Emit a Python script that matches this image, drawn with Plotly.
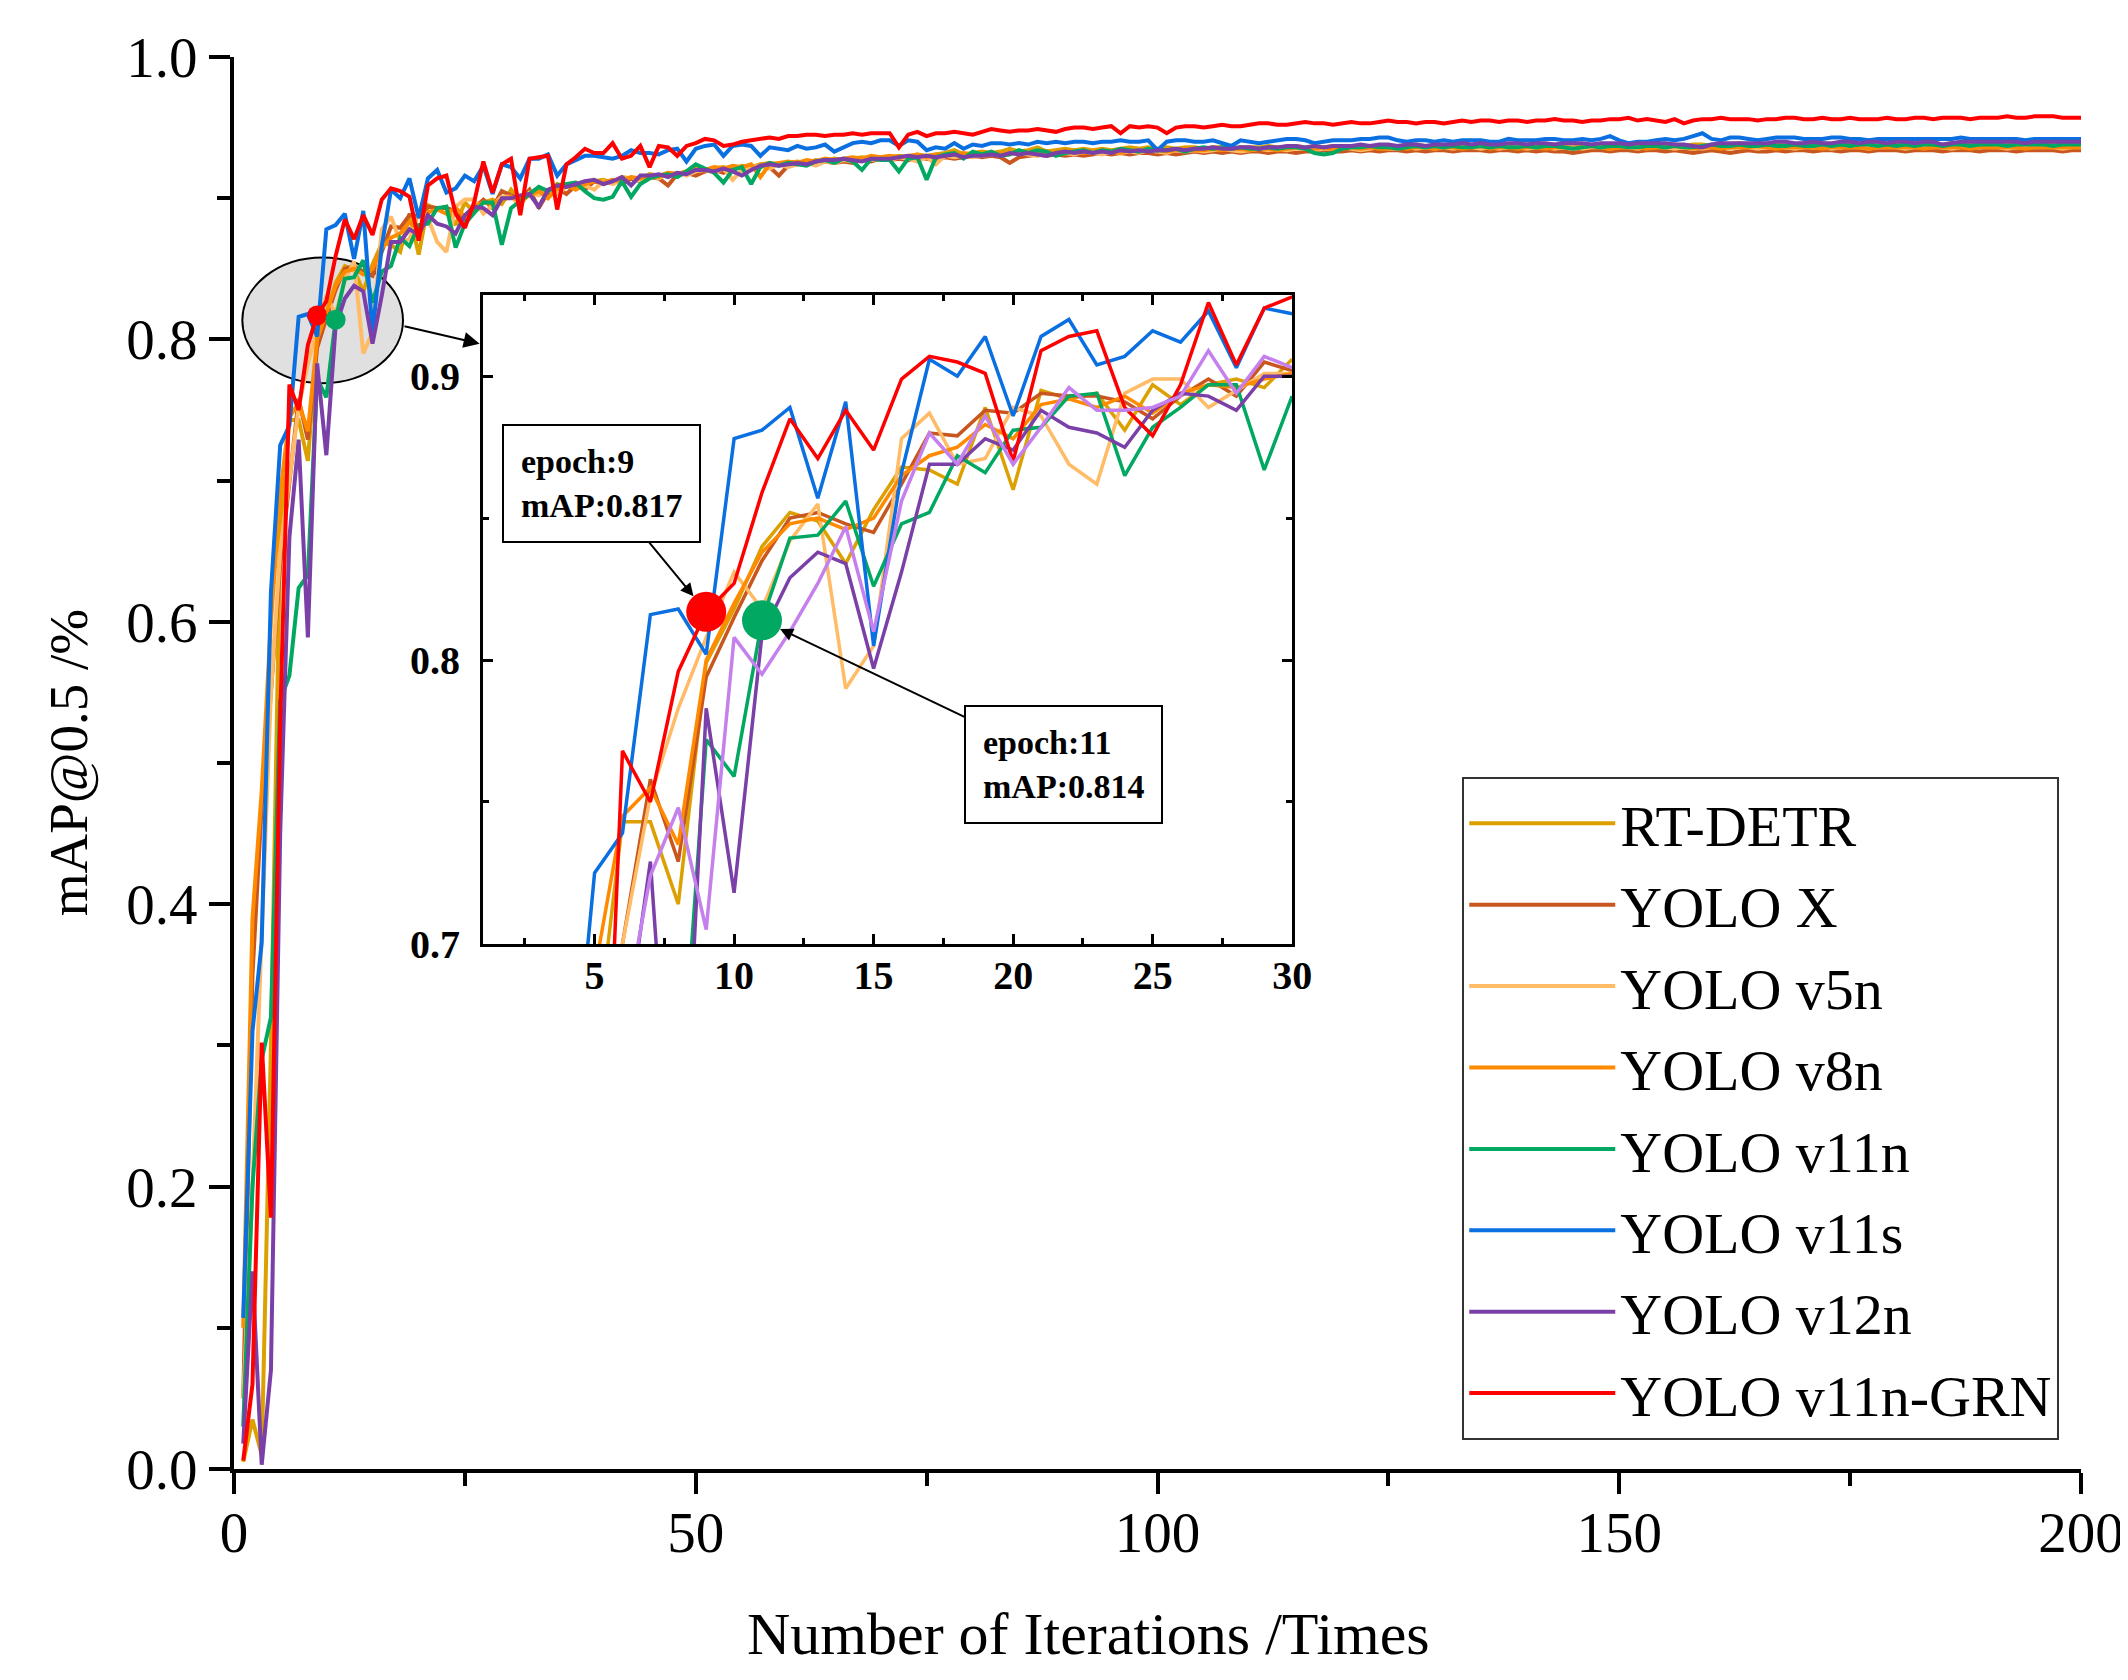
import plotly.graph_objects as go

# mAP@0.5 por época (1..200) de cada modelo
epochs = list(range(1, 201))

rt_detr = [
    0.005, 0.035, 0.010, 0.300, 0.660, 0.743, 0.743, 0.714, 0.799, 0.818,
    0.840, 0.852, 0.849, 0.834, 0.853, 0.868, 0.867, 0.862, 0.889, 0.860,
    0.895, 0.892, 0.894, 0.881, 0.897, 0.890, 0.897, 0.899, 0.896, 0.906,
    0.898, 0.903, 0.907, 0.905, 0.910, 0.908, 0.910, 0.909, 0.912, 0.913,
    0.911, 0.915, 0.914, 0.913, 0.917, 0.916, 0.918, 0.917, 0.919, 0.920,
    0.919, 0.921, 0.922, 0.920, 0.923, 0.922, 0.924, 0.925, 0.924, 0.925,
    0.926, 0.925, 0.927, 0.926, 0.928, 0.927, 0.928, 0.929, 0.928, 0.929,
    0.929, 0.930, 0.929, 0.931, 0.930, 0.931, 0.932, 0.934, 0.931, 0.932,
    0.933, 0.932, 0.933, 0.935, 0.933, 0.934, 0.936, 0.933, 0.934, 0.935,
    0.934, 0.935, 0.934, 0.935, 0.934, 0.935, 0.936, 0.935, 0.936, 0.935,
    0.936, 0.935, 0.936, 0.936, 0.935, 0.936, 0.936, 0.935, 0.936, 0.936,
    0.936, 0.937, 0.936, 0.936, 0.937, 0.936, 0.937, 0.936, 0.937, 0.937,
    0.937, 0.936, 0.937, 0.937, 0.936, 0.937, 0.937, 0.938, 0.937, 0.937,
    0.937, 0.938, 0.937, 0.937, 0.938, 0.937, 0.938, 0.937, 0.938, 0.938,
    0.937, 0.938, 0.938, 0.937, 0.938, 0.938, 0.937, 0.938, 0.938, 0.938,
    0.938, 0.937, 0.938, 0.938, 0.938, 0.938, 0.937, 0.938, 0.938, 0.937,
    0.938, 0.938, 0.939, 0.938, 0.938, 0.938, 0.939, 0.938, 0.938, 0.939,
    0.938, 0.939, 0.938, 0.938, 0.939, 0.938, 0.938, 0.939, 0.938, 0.938,
    0.939, 0.938, 0.938, 0.939, 0.938, 0.939, 0.938, 0.938, 0.939, 0.938,
    0.938, 0.939, 0.938, 0.939, 0.938, 0.939, 0.939, 0.938, 0.939, 0.939,
]

yolo_x = [
    0.050, 0.350, 0.470, 0.550, 0.640, 0.700, 0.758, 0.729, 0.794, 0.815,
    0.835, 0.850, 0.852, 0.848, 0.845, 0.862, 0.880, 0.879, 0.888, 0.887,
    0.894, 0.893, 0.893, 0.891, 0.885, 0.893, 0.899, 0.893, 0.905, 0.902,
    0.899, 0.906, 0.893, 0.904, 0.907, 0.903, 0.909, 0.906, 0.912, 0.910,
    0.913, 0.910, 0.914, 0.912, 0.915, 0.914, 0.909, 0.917, 0.918, 0.916,
    0.919, 0.920, 0.918, 0.921, 0.922, 0.920, 0.923, 0.922, 0.916, 0.923,
    0.924, 0.925, 0.924, 0.926, 0.925, 0.926, 0.925, 0.927, 0.926, 0.928,
    0.927, 0.928, 0.927, 0.929, 0.928, 0.927, 0.929, 0.928, 0.929, 0.930,
    0.929, 0.930, 0.929, 0.925, 0.929, 0.930, 0.931, 0.930, 0.931, 0.930,
    0.931, 0.930, 0.931, 0.932, 0.931, 0.932, 0.931, 0.932, 0.932, 0.931,
    0.932, 0.931, 0.932, 0.933, 0.932, 0.933, 0.932, 0.933, 0.932, 0.933,
    0.933, 0.932, 0.933, 0.933, 0.932, 0.933, 0.933, 0.934, 0.933, 0.933,
    0.934, 0.933, 0.934, 0.933, 0.934, 0.934, 0.933, 0.934, 0.933, 0.934,
    0.934, 0.933, 0.934, 0.934, 0.934, 0.933, 0.934, 0.934, 0.933, 0.934,
    0.933, 0.934, 0.933, 0.933, 0.932, 0.933, 0.934, 0.934, 0.933, 0.934,
    0.934, 0.933, 0.934, 0.934, 0.933, 0.934, 0.933, 0.932, 0.933, 0.934,
    0.933, 0.932, 0.933, 0.934, 0.933, 0.933, 0.934, 0.933, 0.934, 0.934,
    0.933, 0.934, 0.934, 0.933, 0.934, 0.934, 0.933, 0.934, 0.934, 0.934,
    0.933, 0.934, 0.934, 0.934, 0.933, 0.934, 0.934, 0.934, 0.933, 0.934,
    0.934, 0.934, 0.933, 0.934, 0.934, 0.934, 0.934, 0.933, 0.934, 0.934,
]

yolo_v5n = [
    0.050, 0.200, 0.380, 0.550, 0.650, 0.700, 0.752, 0.783, 0.808, 0.831,
    0.818, 0.842, 0.855, 0.790, 0.805, 0.878, 0.887, 0.869, 0.871, 0.889,
    0.886, 0.869, 0.862, 0.894, 0.899, 0.899, 0.889, 0.895, 0.901, 0.901,
    0.895, 0.904, 0.902, 0.906, 0.903, 0.908, 0.911, 0.909, 0.906, 0.912,
    0.910, 0.913, 0.915, 0.912, 0.916, 0.914, 0.917, 0.918, 0.916, 0.919,
    0.920, 0.918, 0.921, 0.913, 0.920, 0.922, 0.923, 0.921, 0.924, 0.922,
    0.924, 0.925, 0.923, 0.926, 0.925, 0.927, 0.926, 0.928, 0.927, 0.928,
    0.927, 0.929, 0.928, 0.926, 0.929, 0.924, 0.930, 0.929, 0.930, 0.929,
    0.930, 0.931, 0.930, 0.931, 0.932, 0.931, 0.930, 0.932, 0.931, 0.932,
    0.931, 0.933, 0.932, 0.931, 0.933, 0.932, 0.933, 0.932, 0.934, 0.933,
    0.932, 0.934, 0.933, 0.934, 0.933, 0.934, 0.935, 0.934, 0.933, 0.934,
    0.935, 0.934, 0.935, 0.934, 0.935, 0.935, 0.934, 0.935, 0.935, 0.936,
    0.935, 0.934, 0.935, 0.936, 0.935, 0.935, 0.936, 0.935, 0.936, 0.935,
    0.936, 0.935, 0.936, 0.936, 0.935, 0.936, 0.935, 0.936, 0.936, 0.935,
    0.936, 0.936, 0.935, 0.936, 0.936, 0.935, 0.936, 0.936, 0.935, 0.936,
    0.936, 0.935, 0.936, 0.936, 0.936, 0.935, 0.936, 0.936, 0.935, 0.936,
    0.936, 0.935, 0.936, 0.936, 0.935, 0.936, 0.936, 0.936, 0.935, 0.936,
    0.936, 0.936, 0.935, 0.936, 0.936, 0.936, 0.935, 0.936, 0.936, 0.936,
    0.935, 0.936, 0.936, 0.936, 0.936, 0.935, 0.936, 0.936, 0.936, 0.936,
    0.936, 0.935, 0.936, 0.936, 0.936, 0.936, 0.936, 0.935, 0.936, 0.936,
]

yolo_v8n = [
    0.100, 0.390, 0.480, 0.600, 0.690, 0.745, 0.755, 0.735, 0.800, 0.820,
    0.838, 0.848, 0.850, 0.846, 0.850, 0.865, 0.872, 0.875, 0.883, 0.878,
    0.890, 0.892, 0.889, 0.893, 0.887, 0.894, 0.897, 0.896, 0.899, 0.901,
    0.898, 0.902, 0.905, 0.900, 0.907, 0.909, 0.906, 0.910, 0.912, 0.911,
    0.913, 0.912, 0.915, 0.914, 0.916, 0.915, 0.918, 0.917, 0.919, 0.921,
    0.920, 0.922, 0.921, 0.923, 0.922, 0.924, 0.915, 0.924, 0.925, 0.926,
    0.925, 0.927, 0.926, 0.928, 0.927, 0.928, 0.929, 0.928, 0.930, 0.929,
    0.930, 0.929, 0.930, 0.931, 0.929, 0.931, 0.930, 0.931, 0.932, 0.931,
    0.931, 0.932, 0.931, 0.932, 0.933, 0.932, 0.931, 0.933, 0.932, 0.933,
    0.933, 0.932, 0.933, 0.934, 0.933, 0.932, 0.934, 0.933, 0.934, 0.934,
    0.933, 0.934, 0.935, 0.934, 0.934, 0.935, 0.934, 0.935, 0.935, 0.934,
    0.935, 0.935, 0.934, 0.935, 0.936, 0.935, 0.935, 0.936, 0.935, 0.935,
    0.936, 0.935, 0.936, 0.935, 0.935, 0.936, 0.935, 0.936, 0.936, 0.935,
    0.936, 0.936, 0.935, 0.936, 0.937, 0.935, 0.936, 0.936, 0.935, 0.936,
    0.936, 0.935, 0.936, 0.936, 0.935, 0.936, 0.937, 0.936, 0.935, 0.936,
    0.936, 0.936, 0.935, 0.936, 0.936, 0.937, 0.936, 0.935, 0.936, 0.936,
    0.935, 0.936, 0.936, 0.936, 0.937, 0.936, 0.935, 0.936, 0.936, 0.936,
    0.936, 0.935, 0.936, 0.936, 0.936, 0.936, 0.935, 0.936, 0.936, 0.936,
    0.936, 0.936, 0.935, 0.936, 0.936, 0.936, 0.936, 0.935, 0.936, 0.936,
    0.936, 0.936, 0.936, 0.935, 0.936, 0.936, 0.936, 0.936, 0.936, 0.936,
]

yolo_v11n = [
    0.030, 0.200, 0.290, 0.320, 0.544, 0.562, 0.624, 0.633, 0.772, 0.759,
    0.814, 0.843, 0.844, 0.856, 0.826, 0.848, 0.852, 0.872, 0.866, 0.881,
    0.882, 0.893, 0.894, 0.865, 0.882, 0.889, 0.897, 0.897, 0.867, 0.893,
    0.898, 0.903, 0.908, 0.905, 0.909, 0.910, 0.911, 0.905, 0.900, 0.899,
    0.901, 0.912, 0.901, 0.910, 0.914, 0.916, 0.917, 0.915, 0.919, 0.924,
    0.921, 0.918, 0.911, 0.920, 0.922, 0.910, 0.922, 0.925, 0.923, 0.925,
    0.924, 0.923, 0.926, 0.927, 0.925, 0.928, 0.926, 0.920, 0.928, 0.927,
    0.927, 0.919, 0.928, 0.929, 0.913, 0.929, 0.931, 0.932, 0.928, 0.933,
    0.931, 0.933, 0.930, 0.931, 0.934, 0.932, 0.934, 0.933, 0.930, 0.932,
    0.933, 0.934, 0.932, 0.934, 0.933, 0.935, 0.934, 0.933, 0.935, 0.934,
    0.934, 0.935, 0.933, 0.935, 0.936, 0.935, 0.936, 0.935, 0.936, 0.935,
    0.935, 0.936, 0.935, 0.936, 0.936, 0.935, 0.932, 0.931, 0.932, 0.935,
    0.936, 0.936, 0.937, 0.936, 0.936, 0.935, 0.936, 0.937, 0.936, 0.937,
    0.936, 0.937, 0.936, 0.936, 0.937, 0.936, 0.937, 0.936, 0.936, 0.937,
    0.936, 0.937, 0.937, 0.936, 0.935, 0.936, 0.937, 0.936, 0.937, 0.937,
    0.936, 0.936, 0.937, 0.937, 0.936, 0.937, 0.936, 0.936, 0.937, 0.938,
    0.937, 0.937, 0.938, 0.937, 0.937, 0.938, 0.937, 0.937, 0.938, 0.937,
    0.937, 0.938, 0.937, 0.938, 0.937, 0.938, 0.938, 0.937, 0.938, 0.937,
    0.938, 0.937, 0.938, 0.938, 0.937, 0.938, 0.938, 0.937, 0.938, 0.938,
    0.938, 0.937, 0.938, 0.938, 0.938, 0.938, 0.937, 0.938, 0.938, 0.938,
]

yolo_v11s = [
    0.107, 0.310, 0.373, 0.621, 0.725, 0.739, 0.816, 0.818, 0.802, 0.878,
    0.881, 0.889, 0.857, 0.891, 0.805, 0.866, 0.906, 0.900, 0.914, 0.886,
    0.914, 0.920, 0.904, 0.907, 0.916, 0.912, 0.923, 0.903, 0.924, 0.922,
    0.914, 0.928, 0.928, 0.931, 0.916, 0.924, 0.927, 0.930, 0.930, 0.929,
    0.928, 0.930, 0.934, 0.932, 0.932, 0.931, 0.934, 0.935, 0.926, 0.935,
    0.937, 0.938, 0.930, 0.937, 0.938, 0.937, 0.930, 0.936, 0.935, 0.934,
    0.937, 0.935, 0.936, 0.938, 0.933, 0.936, 0.939, 0.940, 0.939, 0.941,
    0.941, 0.937, 0.941, 0.940, 0.934, 0.936, 0.935, 0.939, 0.935, 0.938,
    0.937, 0.939, 0.939, 0.938, 0.939, 0.938, 0.940, 0.939, 0.940, 0.939,
    0.940, 0.940, 0.939, 0.940, 0.940, 0.941, 0.940, 0.940, 0.941, 0.934,
    0.940, 0.941, 0.941, 0.940, 0.940, 0.941, 0.939, 0.937, 0.941, 0.940,
    0.939, 0.940, 0.941, 0.942, 0.942, 0.941, 0.939, 0.940, 0.941, 0.941,
    0.941, 0.942, 0.942, 0.943, 0.943, 0.941, 0.940, 0.941, 0.941, 0.940,
    0.941, 0.940, 0.941, 0.941, 0.941, 0.940, 0.940, 0.942, 0.941, 0.941,
    0.941, 0.942, 0.942, 0.941, 0.941, 0.942, 0.941, 0.942, 0.944, 0.941,
    0.939, 0.940, 0.940, 0.941, 0.942, 0.941, 0.942, 0.944, 0.946, 0.942,
    0.941, 0.943, 0.943, 0.942, 0.941, 0.942, 0.943, 0.943, 0.943, 0.942,
    0.942, 0.942, 0.943, 0.943, 0.942, 0.942, 0.941, 0.942, 0.942, 0.942,
    0.942, 0.942, 0.942, 0.942, 0.942, 0.942, 0.943, 0.942, 0.942, 0.942,
    0.942, 0.942, 0.942, 0.941, 0.942, 0.942, 0.942, 0.942, 0.942, 0.942,
]

yolo_v12n = [
    0.018, 0.140, 0.003, 0.070, 0.450, 0.660, 0.729, 0.589, 0.783, 0.718,
    0.809, 0.829, 0.838, 0.834, 0.797, 0.831, 0.869, 0.869, 0.878, 0.874,
    0.888, 0.882, 0.880, 0.875, 0.888, 0.894, 0.893, 0.888, 0.900, 0.900,
    0.902, 0.903, 0.894, 0.906, 0.909, 0.908, 0.910, 0.912, 0.913, 0.910,
    0.912, 0.915, 0.909, 0.916, 0.916, 0.917, 0.915, 0.918, 0.917, 0.920,
    0.920, 0.919, 0.921, 0.919, 0.916, 0.920, 0.923, 0.924, 0.923, 0.924,
    0.925, 0.924, 0.926, 0.927, 0.927, 0.928, 0.927, 0.926, 0.928, 0.928,
    0.928, 0.929, 0.930, 0.929, 0.930, 0.929, 0.930, 0.931, 0.929, 0.930,
    0.930, 0.931, 0.930, 0.932, 0.931, 0.932, 0.931, 0.930, 0.932, 0.933,
    0.932, 0.933, 0.932, 0.933, 0.932, 0.934, 0.933, 0.934, 0.933, 0.934,
    0.934, 0.935, 0.934, 0.935, 0.935, 0.936, 0.935, 0.935, 0.936, 0.936,
    0.935, 0.936, 0.936, 0.937, 0.937, 0.936, 0.937, 0.936, 0.937, 0.937,
    0.937, 0.938, 0.937, 0.938, 0.938, 0.937, 0.938, 0.938, 0.937, 0.938,
    0.938, 0.938, 0.939, 0.938, 0.939, 0.938, 0.938, 0.939, 0.939, 0.938,
    0.939, 0.939, 0.938, 0.939, 0.939, 0.939, 0.938, 0.939, 0.939, 0.939,
    0.938, 0.939, 0.939, 0.939, 0.939, 0.938, 0.938, 0.937, 0.936, 0.938,
    0.939, 0.939, 0.939, 0.939, 0.939, 0.939, 0.940, 0.940, 0.939, 0.939,
    0.940, 0.939, 0.939, 0.940, 0.940, 0.939, 0.940, 0.940, 0.939, 0.940,
    0.940, 0.939, 0.940, 0.940, 0.938, 0.939, 0.940, 0.940, 0.940, 0.940,
    0.940, 0.940, 0.940, 0.939, 0.940, 0.940, 0.940, 0.940, 0.940, 0.940,
]

yolo_v11n_grn = [
    0.006, 0.060, 0.302, 0.178, 0.530, 0.768, 0.750, 0.796, 0.817, 0.827,
    0.859, 0.885, 0.871, 0.888, 0.874, 0.899, 0.907, 0.905, 0.901, 0.870,
    0.909, 0.914, 0.916, 0.889, 0.879, 0.897, 0.926, 0.904, 0.924, 0.928,
    0.888, 0.928, 0.929, 0.930, 0.892, 0.924, 0.929, 0.935, 0.932, 0.932,
    0.939, 0.928, 0.930, 0.937, 0.922, 0.937, 0.936, 0.930, 0.937, 0.939,
    0.942, 0.941, 0.937, 0.938, 0.940, 0.941, 0.942, 0.943, 0.942, 0.944,
    0.944, 0.945, 0.945, 0.944, 0.945, 0.945, 0.946, 0.945, 0.946, 0.946,
    0.946, 0.936, 0.945, 0.947, 0.944, 0.946, 0.946, 0.947, 0.946, 0.945,
    0.947, 0.949, 0.948, 0.947, 0.948, 0.948, 0.949, 0.948, 0.947, 0.949,
    0.950, 0.950, 0.949, 0.950, 0.951, 0.946, 0.951, 0.950, 0.951, 0.950,
    0.946, 0.950, 0.951, 0.951, 0.950, 0.951, 0.952, 0.951, 0.951, 0.952,
    0.953, 0.953, 0.952, 0.952, 0.953, 0.954, 0.953, 0.953, 0.952, 0.953,
    0.954, 0.953, 0.953, 0.954, 0.955, 0.954, 0.954, 0.953, 0.954, 0.954,
    0.953, 0.954, 0.955, 0.954, 0.955, 0.955, 0.954, 0.955, 0.955, 0.954,
    0.955, 0.955, 0.956, 0.955, 0.955, 0.954, 0.955, 0.955, 0.956, 0.956,
    0.957, 0.955, 0.956, 0.955, 0.954, 0.956, 0.953, 0.955, 0.956, 0.956,
    0.957, 0.956, 0.956, 0.956, 0.955, 0.956, 0.956, 0.957, 0.957, 0.956,
    0.956, 0.957, 0.956, 0.956, 0.957, 0.956, 0.956, 0.956, 0.957, 0.956,
    0.956, 0.957, 0.957, 0.956, 0.957, 0.957, 0.957, 0.956, 0.957, 0.957,
    0.957, 0.958, 0.957, 0.957, 0.958, 0.958, 0.958, 0.957, 0.957, 0.957,
]

# curva lilás que aparece só no detalhe (épocas 6..30)
inset_epochs = list(range(6, 31))
inset_lilac = [
    0.670, 0.724, 0.748, 0.705, 0.808, 0.795, 0.810, 0.827, 0.847, 0.810,
    0.856, 0.880, 0.869, 0.886, 0.869, 0.882, 0.896, 0.888, 0.888, 0.889,
    0.893, 0.909, 0.894, 0.907, 0.903,
]

model_names = ['RT-DETR', 'YOLO X', 'YOLO v5n', 'YOLO v8n', 'YOLO v11n',
               'YOLO v11s', 'YOLO v12n', 'YOLO v11n-GRN']
model_values = [rt_detr, yolo_x, yolo_v5n, yolo_v8n, yolo_v11n,
                yolo_v11s, yolo_v12n, yolo_v11n_grn]
model_colors = ['#DCA000', '#C8561E', '#FFBB66', '#FF8A00', '#00A862',
                '#0A6FE0', '#7A40A8', '#FF0000']

best_points = [('YOLO v11n-GRN', 9, 0.817, '#FF0000'), ('YOLO v11n', 11, 0.814, '#00A862')]

font_family = 'Liberation Serif'

fig = go.Figure()

for name, values, color in zip(model_names, model_values, model_colors):
    fig.add_trace(go.Scatter(x=epochs, y=values, mode='lines', name=name,
                             legendgroup=name, line=dict(color=color, width=4)))

# detalhe das primeiras 30 épocas
for name, values, color in zip(model_names, model_values, model_colors):
    fig.add_trace(go.Scatter(x=epochs[:30], y=values[:30], mode='lines', name=name,
                             legendgroup=name, line=dict(color=color, width=3.5),
                             showlegend=False, xaxis='x2', yaxis='y2'))
fig.add_trace(go.Scatter(x=inset_epochs, y=inset_lilac, mode='lines',
                         line=dict(color='#C580EE', width=3.5), showlegend=False,
                         xaxis='x2', yaxis='y2'))

for name, ep, val, color in best_points:
    fig.add_trace(go.Scatter(x=[ep], y=[val], mode='markers', showlegend=False,
                             legendgroup=name, marker=dict(color=color, size=20)))
    fig.add_trace(go.Scatter(x=[ep], y=[val], mode='markers', showlegend=False,
                             legendgroup=name, marker=dict(color=color, size=40),
                             xaxis='x2', yaxis='y2'))

# elipse cinza marcando a região ampliada
fig.add_shape(type='circle', xref='x', yref='y', x0=0.9, x1=18.3, y0=0.769, y1=0.858,
              fillcolor='#E0E0E0', line=dict(color='black', width=2), layer='below')

fig.add_annotation(x=26.6, y=0.797, ax=18.3, ay=0.8095, xref='x', yref='y',
                   axref='x', ayref='y', text='', showarrow=True,
                   arrowhead=2, arrowsize=1.6, arrowwidth=2, arrowcolor='black')

ann_font = dict(family=font_family, size=34, color='black', weight='bold')
fig.add_annotation(x=9, y=0.817, xref='x2', yref='y2', ax=-105, ay=-128,
                   text='epoch:9<br>mAP:0.817', align='left', font=ann_font,
                   bordercolor='black', borderwidth=2, borderpad=17, bgcolor='white',
                   showarrow=True, arrowhead=2, arrowsize=1.3, arrowwidth=2,
                   arrowcolor='black', standoff=20)
fig.add_annotation(x=11, y=0.814, xref='x2', yref='y2', ax=302, ay=144,
                   text='epoch:11<br>mAP:0.814', align='left', font=ann_font,
                   bordercolor='black', borderwidth=2, borderpad=17, bgcolor='white',
                   showarrow=True, arrowhead=2, arrowsize=1.3, arrowwidth=2,
                   arrowcolor='black', standoff=20)

# títulos dos eixos
fig.add_annotation(text='Number of Iterations /Times', xref='paper', yref='paper',
                   x=0.4625, y=-0.117, xanchor='center', yanchor='middle',
                   showarrow=False, font=dict(family=font_family, size=60, color='black'))
fig.add_annotation(text='mAP@0.5 /%', xref='paper', yref='paper',
                   x=-0.0897, y=0.5, xanchor='center', yanchor='middle',
                   textangle=-90, showarrow=False,
                   font=dict(family=font_family, size=55, color='black'))

tick_font = dict(family=font_family, size=57, color='black')
inset_tick_font = dict(family=font_family, size=40, color='black', weight='bold')

fig.update_layout(
    width=2128, height=1680, autosize=False,
    margin=dict(l=226, r=51, t=49, b=219),
    paper_bgcolor='white', plot_bgcolor='white',
    font=dict(family=font_family, color='black'),
    xaxis=dict(range=[0, 200], tickvals=[0, 50, 100, 150, 200], showgrid=False,
               zeroline=False, showline=True, linecolor='black', linewidth=4,
               ticks='outside', ticklen=21, tickwidth=4, tickcolor='black',
               minor=dict(tickvals=[25, 75, 125, 175], ticklen=13, tickwidth=4,
                          ticks='outside', tickcolor='black'),
               tickfont=tick_font, ticklabelstandoff=-10),
    yaxis=dict(range=[0, 1.0], tickvals=[0, 0.2, 0.4, 0.6, 0.8, 1.0], tickformat='.1f',
               showgrid=False, zeroline=False, showline=True, linecolor='black',
               linewidth=4, ticks='outside', ticklen=21, tickwidth=4, tickcolor='black',
               minor=dict(tickvals=[0.1, 0.3, 0.5, 0.7, 0.9], ticklen=13, tickwidth=4,
                          ticks='outside', tickcolor='black'),
               tickfont=tick_font),
    xaxis2=dict(domain=[0.1348, 0.5729], anchor='y2', range=[1, 30],
                tickvals=[5, 10, 15, 20, 25, 30], showgrid=False, zeroline=False,
                showline=True, mirror='ticks', linecolor='black', linewidth=3,
                ticks='inside', ticklen=10, tickwidth=3, tickcolor='black',
                minor=dict(tickvals=[2.5, 7.5, 12.5, 17.5, 22.5, 27.5], ticklen=6,
                           tickwidth=3, ticks='inside', tickcolor='black'),
                tickfont=inset_tick_font, ticklabelstandoff=-6),
    yaxis2=dict(domain=[0.3719, 0.8316], anchor='x2', range=[0.7, 0.9287],
                tickvals=[0.7, 0.8, 0.9], tickformat='.1f', showgrid=False,
                zeroline=False, showline=True, mirror='ticks', linecolor='black',
                linewidth=3, ticks='inside', ticklen=10, tickwidth=3, tickcolor='black',
                minor=dict(tickvals=[0.75, 0.85], ticklen=6, tickwidth=3,
                           ticks='inside', tickcolor='black'),
                tickfont=inset_tick_font, ticklabelstandoff=12),
    legend=dict(x=0.665, y=0.490, xanchor='left', yanchor='top',
                bgcolor='white', bordercolor='#333333', borderwidth=2,
                font=dict(family=font_family, size=58, color='black'),
                itemwidth=146, tracegroupgap=3),
)

fig.write_html("out.html")
